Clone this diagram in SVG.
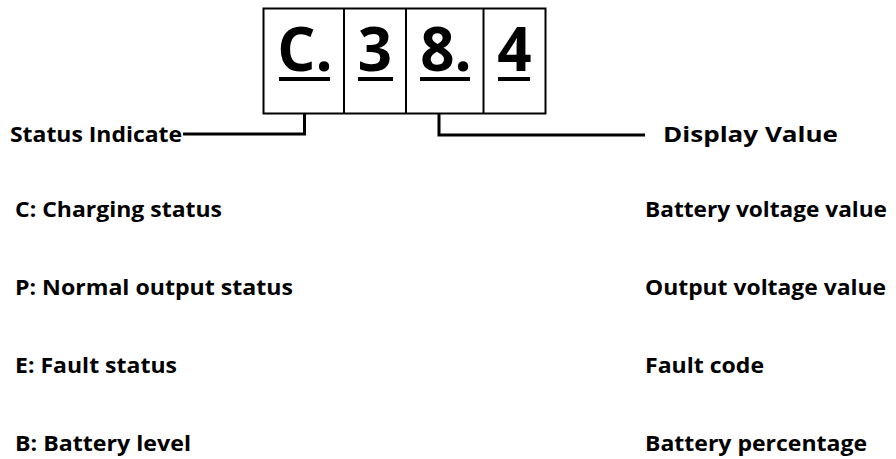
<svg xmlns="http://www.w3.org/2000/svg" width="896" height="459" viewBox="0 0 896 459">
  <style>
    .lbl { font-family: "Open Sans", "Noto Sans", "Liberation Sans", sans-serif; font-weight: 700; font-size: 22px; fill: #000; }
    .digit { font-family: "Open Sans", "Noto Sans", "Liberation Sans", sans-serif; font-weight: 700; font-size: 60px; fill: #000; text-anchor: middle; }
    .cell { fill: #fff; stroke: #000; stroke-width: 2; }
    .uline { fill: #000; }
    .wire { fill: none; stroke: #000; stroke-width: 3; }
  </style>

  <!-- four-digit display -->
  <g id="display">
    <rect class="cell" x="263.5" y="8.5" width="282" height="105"/>
    <line x1="344" y1="8.5" x2="344" y2="113.5" stroke="#000" stroke-width="2"/>
    <line x1="406" y1="8.5" x2="406" y2="113.5" stroke="#000" stroke-width="2"/>
    <line x1="483.5" y1="8.5" x2="483.5" y2="113.5" stroke="#000" stroke-width="2"/>
  </g>
  <g id="digit-c">
    <text class="digit" x="305" y="71">C.</text>
    <rect class="uline" x="279" y="77" width="51" height="4"/>
  </g>
  <g id="digit-3">
    <text class="digit" x="375" y="71">3</text>
    <rect class="uline" x="358" y="77" width="35" height="4"/>
  </g>
  <g id="digit-8">
    <text class="digit" x="446" y="71">8.</text>
    <rect class="uline" x="420" y="77" width="50" height="4"/>
  </g>
  <g id="digit-4">
    <text class="digit" x="514.5" y="71">4</text>
    <rect class="uline" x="498" y="77" width="32" height="4"/>
  </g>

  <!-- leader lines -->
  <g id="connectors">
    <path class="wire" d="M304.5,114 V134 H183"/>
    <path class="wire" d="M439,114 V135 H645"/>
  </g>

  <g id="status-indicate">
    <text class="lbl" x="10" y="142" textLength="172" lengthAdjust="spacingAndGlyphs">Status Indicate</text>
  </g>
  <g id="display-value">
    <text class="lbl" x="663" y="142" textLength="175" lengthAdjust="spacingAndGlyphs">Display Value</text>
  </g>

  <!-- status codes -->
  <g id="status-list">
    <text class="lbl" x="15" y="217" textLength="207" lengthAdjust="spacingAndGlyphs">C: Charging status</text>
    <text class="lbl" x="15" y="295" textLength="278" lengthAdjust="spacingAndGlyphs">P: Normal output status</text>
    <text class="lbl" x="15" y="373" textLength="162" lengthAdjust="spacingAndGlyphs">E: Fault status</text>
    <text class="lbl" x="15" y="451" textLength="176" lengthAdjust="spacingAndGlyphs">B: Battery level</text>
  </g>

  <!-- value meanings -->
  <g id="value-list">
    <text class="lbl" x="645" y="217" textLength="242" lengthAdjust="spacingAndGlyphs">Battery voltage value</text>
    <text class="lbl" x="645" y="295" textLength="241" lengthAdjust="spacingAndGlyphs">Output voltage value</text>
    <text class="lbl" x="645" y="373" textLength="119" lengthAdjust="spacingAndGlyphs">Fault code</text>
    <text class="lbl" x="645" y="451" textLength="222" lengthAdjust="spacingAndGlyphs">Battery percentage</text>
  </g>
</svg>
